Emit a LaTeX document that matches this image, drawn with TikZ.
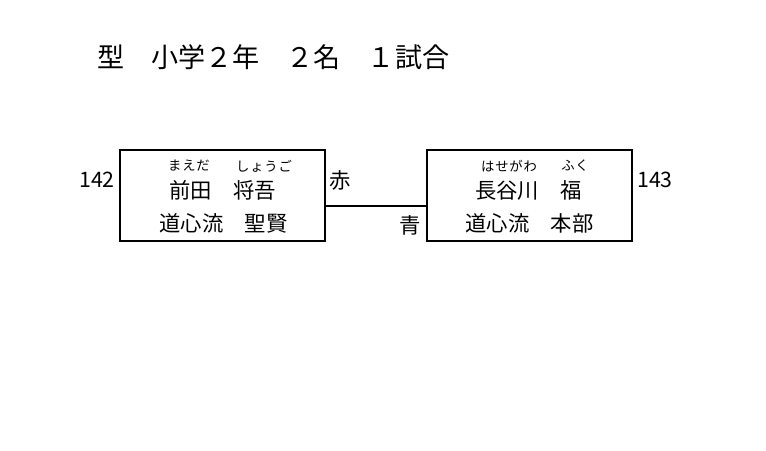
\documentclass[tikz,border=0pt]{standalone}
\usepackage{fontspec}
\setmainfont{Noto Sans CJK JP}
\newfontfamily\rubyfont[LetterSpace=6]{Noto Sans CJK JP}
\tikzset{
  riquadro/.style={draw, line width=1.5pt, minimum width=153.75pt, minimum height=68.25pt, inner sep=0pt},
  testo/.style={inner sep=0pt, font=\fontsize{16}{18}\selectfont},
  ruby/.style={inner sep=0pt, font=\rubyfont\fontsize{10}{11}\selectfont},
}
\begin{document}
\begin{tikzpicture}[x=0.75pt,y=-0.75pt]
\useasboundingbox (0,0) rectangle (766,450);
% Titolo
\node[anchor=west, inner sep=0pt, font=\fontsize{20.3}{23}\selectfont] (titolo) at (97,57) {型　小学２年　２名　１試合};

% Riquadri e numeri
\foreach \id/\x/\num/\nx in {a/222.5/142/97, b/529.5/143/655} {
    \node[riquadro] (\id) at (\x,195.5) {};
    \node[testo] (num\id) at (\nx,180) {\num};
}

% Nomi
\node[ruby] (fa1) at (189,166) {まえだ};
\node[ruby] (fa2) at (264,166) {しょうご};
\node[testo] (nomea) at (222.5,190) {前田　将吾};
\node[testo] (cluba) at (223.5,223) {道心流　聖賢};
\node[ruby] (fb1) at (509,166) {はせがわ};
\node[ruby] (fb2) at (575,166) {ふく};
\node[testo] (nomeb) at (528.5,190) {長谷川　福};
\node[testo] (clubb) at (529.5,223) {道心流　本部};

% Incontro
\draw[line width=1.5pt] ([yshift=-7.9pt]a.east) -- ([yshift=-7.9pt]b.west);
\node[testo] (rosso) at (340,180) {赤};
\node[testo] (blu) at (410,225) {青};
\end{tikzpicture}
\end{document}
